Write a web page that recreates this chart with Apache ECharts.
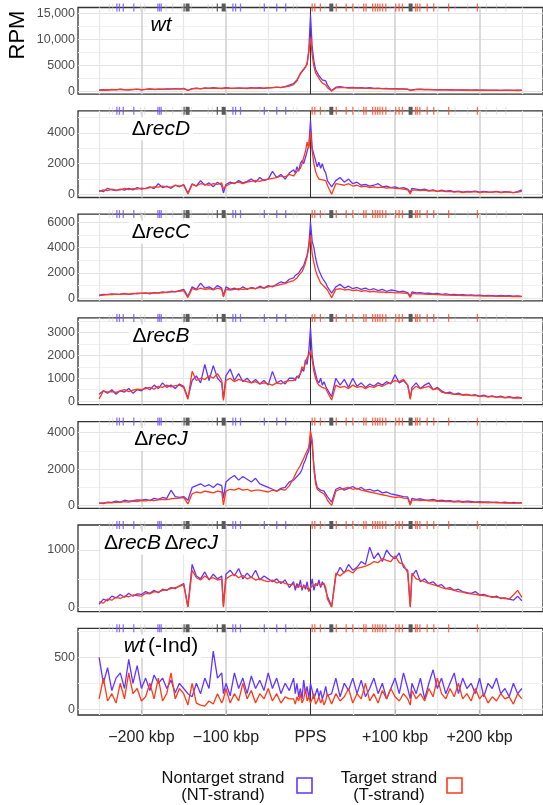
<!DOCTYPE html>
<html>
<head>
<meta charset="utf-8">
<script src="https://cdn.jsdelivr.net/npm/echarts@6/dist/echarts.min.js"></script>
<style>
html, body { margin: 0; padding: 0; background: #fff; }
#main { width: 543px; height: 805px; }
</style>
</head>
<body>
<div id="main"></div>
<script>
// bin positions, kbp relative to the PPS
var xs = [-250,-245,-240,-235,-230,-225,-220,-215,-210,-205,-200,-195,-190,-185,-180,-175,-170,-165,-160,-155,-150,-145,-140,-135,-130,-125,-120,-115,-110,-105,-103,-100,-95,-90,-85,-80,-75,-70,-65,-60,-55,-50,-45,-40,-35,-30,-25,
  -20,-18,-16,-14,-12,-10,-8,-6,-4,-2,0,2,4,6,8,10,12,14,16,18,20,
  25,30,35,40,45,50,55,60,65,70,75,80,85,90,95,100,105,110,115,118,120,125,130,135,140,145,150,155,160,165,170,175,180,185,190,195,200,205,210,215,220,225,230,235,240,245,250]

// RPM, nontarget (NT) and target (T) strand, one pair per strain
var wtNT = [250,300,220,350,280,400,310,260,330,420,300,380,450,350,420,380,460,400,500,430,560,200,520,600,480,650,560,700,620,580,250,690,620,560,650,600,540,700,620,680,560,650,720,800,700,900,1200,
  1500,1800,2200,2800,3300,3800,4200,4600,5500,8000,14700,8500,5800,4200,3600,3000,2600,2200,2500,2000,1200,
  100,800,900,750,700,760,650,700,620,680,560,600,520,560,480,520,450,480,400,200,420,380,400,350,380,330,300,320,280,300,260,280,250,270,230,250,220,240,200,230,210,190,220,200,180,210,200]
var wtT = [200,260,250,300,320,350,280,300,360,380,340,360,400,380,390,420,430,450,460,480,500,150,480,540,520,560,600,580,600,540,200,620,580,600,580,560,600,620,640,600,620,680,700,750,760,850,1000,
  1300,1600,2000,2700,3500,3200,4300,4000,5200,7500,10500,7000,4800,3600,3000,2500,2000,1600,1500,1200,700,
  50,650,720,700,620,640,600,620,560,580,540,520,500,480,470,460,440,420,380,150,400,360,350,340,320,300,290,280,260,250,240,230,220,230,210,200,190,200,180,190,170,180,170,160,170,150,160]

var recDNT = [250,180,400,300,250,350,280,400,300,450,350,400,500,380,700,450,550,400,600,500,650,100,700,550,900,600,750,500,800,600,100,650,800,700,900,750,850,1000,800,1100,900,1000,1500,1100,1300,1000,1400,
  1600,1400,1800,1500,2000,2200,2000,2400,2500,3200,4800,3000,2600,2200,1800,2100,1700,2000,1600,1400,900,
  500,900,1100,800,1000,700,800,600,650,550,600,700,500,550,450,500,400,450,350,150,400,350,300,350,250,300,200,280,220,250,180,220,150,200,180,220,150,200,170,150,200,130,180,150,120,180,300]
var recDT = [200,300,250,350,280,300,400,320,380,350,420,380,450,500,480,550,500,480,600,550,600,30,650,550,700,650,600,700,650,750,350,550,700,750,800,700,800,850,900,850,950,1000,1050,1100,1200,1150,1300,
  1200,1300,1500,1400,1700,2000,2400,2800,3400,3000,4100,2800,2000,1500,1200,1000,900,950,850,900,600,
  20,700,650,600,700,550,600,500,550,450,500,450,480,420,450,400,380,350,300,40,300,280,250,280,220,250,200,230,180,200,150,180,130,170,150,180,120,170,140,160,180,130,150,170,120,150,200]

var recCNT = [250,300,280,350,300,320,380,300,350,400,380,420,350,450,400,500,450,550,500,600,700,150,900,700,1200,800,900,700,1000,800,200,900,700,800,650,900,700,850,750,950,800,1000,900,1100,1300,1200,1500,
  1600,1800,1700,2000,2200,2400,2600,3000,3400,4200,6000,4500,4000,3200,2600,2200,1900,1600,1400,1200,900,
  400,900,1100,800,950,750,850,700,800,650,750,600,700,550,650,600,500,550,450,150,500,420,450,380,400,350,380,300,350,280,300,260,280,240,260,220,250,200,230,210,190,220,180,200,170,190,150]
var recCT = [200,250,300,280,320,300,350,330,380,350,400,380,420,400,450,430,480,500,520,550,600,50,750,650,800,700,750,650,800,700,100,700,650,700,750,700,750,800,750,850,800,900,950,1000,1100,1150,1300,
  1400,1500,1600,1800,1900,2100,2400,2800,3300,4000,5000,3500,2800,2200,1800,1500,1200,1100,950,850,650,
  50,700,750,650,700,600,650,550,600,500,550,480,500,450,480,430,420,400,380,60,380,350,340,320,300,300,280,260,250,240,230,220,210,200,200,190,180,170,180,160,150,160,140,150,130,140,120]

var recBNT = [300,450,350,500,300,450,400,550,350,500,450,600,500,700,550,800,600,700,550,750,650,150,900,1100,800,1600,900,1550,1000,800,100,1100,1400,900,1200,850,1000,800,950,750,900,700,1300,800,900,750,1000,
  1000,900,1100,1000,1200,1400,1300,1800,1600,2200,3200,2000,1500,1200,900,800,1000,700,850,650,500,
  200,1000,700,950,600,1000,650,800,600,750,650,800,700,850,750,1150,800,900,700,150,600,800,550,700,800,500,600,450,350,400,300,350,280,300,250,280,220,260,200,230,180,220,160,200,150,180,140]
var recBT = [100,450,400,420,380,450,500,420,480,520,500,550,600,520,650,600,700,620,680,700,600,80,1300,900,1000,950,1100,1000,1200,900,30,900,1000,850,950,900,850,800,850,750,800,750,700,800,750,850,900,
  900,1000,950,1100,1200,1500,1400,1700,1900,2000,2200,1800,1300,1000,800,700,750,600,650,550,400,
  50,700,600,650,550,700,600,650,550,650,600,700,650,750,800,900,850,950,700,80,500,650,550,600,650,500,550,400,350,330,300,300,260,280,240,250,200,230,180,210,170,190,150,170,130,150,120]

var recJNT = [150,120,200,180,250,200,300,250,280,320,300,350,280,400,350,450,400,850,500,450,500,300,1000,1100,1200,1050,1150,1000,1200,1100,400,1300,1500,1650,1400,1600,1450,1300,1500,1200,1100,1000,900,800,950,1000,1300,
  1400,1500,1600,1600,1800,2000,2300,2500,2800,3000,3800,3300,2200,1400,1000,900,850,950,800,700,500,
  200,900,1000,850,950,1050,900,1000,850,900,800,850,700,750,650,600,550,500,480,100,400,350,380,320,300,350,280,300,260,280,240,260,220,250,230,200,220,190,210,180,200,170,190,160,180,150,170]
var recJT = [130,150,170,150,200,180,220,200,250,230,280,260,300,280,320,350,330,380,400,420,450,100,650,750,700,800,750,700,800,750,50,800,900,850,950,850,900,800,850,850,800,750,850,800,900,850,1100,
  1500,1700,1900,2000,2200,2400,2600,2800,2900,3200,4100,3600,2000,1200,900,800,750,700,650,500,300,
  20,800,900,950,1000,900,950,850,800,750,700,650,600,550,500,450,480,420,400,30,300,320,280,300,260,280,240,250,220,240,200,220,190,210,180,200,170,190,160,180,150,170,140,160,130,150,140]

var recBJNT = [60,150,120,200,170,230,180,250,200,240,230,280,250,300,260,320,300,350,330,380,420,20,750,550,500,620,480,580,500,550,30,580,650,550,680,500,600,520,650,480,550,500,450,500,420,480,350,
  450,300,420,350,480,300,400,320,450,280,350,500,300,420,380,480,350,450,400,300,200,
  20,550,700,600,750,650,700,800,750,1050,850,950,800,1000,900,850,950,700,650,20,550,650,450,500,420,450,380,400,330,350,300,320,280,260,250,280,220,230,200,180,200,160,170,150,130,200,120]
var recBJT = [100,80,150,130,180,160,200,190,220,210,200,250,240,280,270,300,310,330,350,370,400,10,650,520,480,550,500,520,480,500,10,500,550,580,520,560,500,530,480,500,470,450,480,430,450,420,400,
  400,380,350,400,380,350,320,380,340,300,330,380,350,400,380,420,380,400,420,350,150,
  10,600,550,620,650,600,680,700,720,750,800,780,850,820,800,900,780,750,600,10,600,500,480,450,420,400,380,350,330,320,300,280,270,250,240,230,220,210,200,190,180,170,160,150,220,300,180]

var indNT = [500,250,400,180,300,350,200,480,250,420,200,300,180,330,250,300,200,280,160,250,200,150,120,250,150,300,200,560,300,350,150,250,130,350,200,300,150,320,200,280,180,350,200,300,150,250,180,
  300,150,250,120,200,100,280,150,220,100,250,180,100,150,200,120,180,100,150,220,130,
  150,300,120,250,180,300,150,280,120,200,300,150,250,100,200,300,150,350,200,100,250,150,300,100,250,380,200,300,150,250,350,150,300,200,250,150,300,120,250,200,300,150,200,120,250,150,200]
var indT = [100,300,80,150,60,250,100,350,150,200,80,120,250,100,300,80,150,350,100,200,150,40,250,60,40,30,80,50,150,60,100,200,60,150,80,250,100,180,60,150,100,200,80,150,60,120,100,
  100,50,120,80,150,60,100,200,80,120,60,100,150,50,80,120,60,100,40,80,150,
  50,150,80,120,200,60,150,100,250,80,150,60,180,100,200,120,80,150,100,40,180,100,150,80,200,120,300,150,100,200,120,250,100,150,80,200,100,150,60,120,80,150,100,120,50,150,100]

// feature rug along the top of every panel (kbp)
var rugNT = [-229,-226,-221.5,-209,-180.5,-178.5,-176.6,-91.8,-88.6,-82.8,-54.6,-39.9,-29.3]
var rugT = [2,5.1,11.7,30.5,42.2,50.1,63,65.7,73.5,76.6,79.4,82.1,85.2,89.1,100.8,104.8,108.7,124.3,126.3,129.4,138,145.8,163.4,197.4]
var rugBlock = [-145.4,-102.7,24.6,118.4]
var rugDark = [-149.5,-110.2]
var rugLight = [-238,-234,-201,-196,-171,-163,-152,-141,-121,-116,-60,-20.3,-16,17,57,94,151,171,186,208,220,231]

var panelNames = ['{i|wt}', '{u|Δ}{i|recD}', '{u|Δ}{i|recC}', '{u|Δ}{i|recB}', '{u|Δ}{i|recJ}',
  '{u|Δ}{i|recB} {u|Δ}{i|recJ}', '{i|wt} {u|(-Ind)}']
var seriesNT = [wtNT, recDNT, recCNT, recBNT, recJNT, recBJNT, indNT]
var seriesT = [wtT, recDT, recCT, recBT, recJT, recBJT, indT]

var xTicks = [-200, -100, 0, 100, 200]
var xTickLabels = ['\u2212200 kbp', '\u2212100 kbp', 'PPS', '+100 kbp', '+200 kbp']
var xMinor = [-250, -150, -50, 50, 150, 250]
var yTicks = [[0, 5000, 10000, 15000], [0, 2000, 4000], [0, 2000, 4000, 6000], [0, 1000, 2000, 3000],
  [0, 2000, 4000], [0, 1000], [0, 500]]
var yMinor = [[2500, 7500, 12500], [1000, 3000, 5000], [1000, 3000, 5000], [500, 1500, 2500, 3500],
  [1000, 3000], [500], [250, 750]]

// layout
var panelTops = [7.5, 110.8, 214.1, 317.9, 421.6, 525, 628.3]
var panelHeight = 86.7
var yMins = [-560, -195, -204, -149, -142, -69, -55]
var yMaxs = [16150, 5429, 6652, 3630, 4603, 1433, 779]

var ntColor = '#6236ff'
var tColor = '#ff3a17'
var font = '"Liberation Sans", Arial, sans-serif'

function withComma(v) {
  return v >= 10000 ? String(v).replace(/\B(?=(\d{3})+(?!\d))/g, ',') : String(v)
}

var grids = [], xAxes = [], yAxes = [], series = [], graphics = []

panelTops.forEach(function (top, i) {
  var last = i === panelTops.length - 1
  grids.push({ left: 78, width: 469, top: top, height: panelHeight, show: true, borderColor: '#333', borderWidth: 1.3 })
  xAxes.push({
    gridIndex: i, type: 'value', min: -275, max: 275, show: last,
    axisLine: { show: false }, splitLine: { show: false },
    axisTick: { show: last, customValues: xTicks, length: 4, lineStyle: { color: '#333', width: 1.1 } },
    axisLabel: {
      show: last, customValues: xTicks, margin: 15, fontSize: 16, fontFamily: font, color: '#222',
      formatter: function (v) { return xTickLabels[xTicks.indexOf(v)] }
    }
  })
  yAxes.push({
    gridIndex: i, type: 'value', min: yMins[i], max: yMaxs[i],
    axisLine: { show: false }, splitLine: { show: false },
    axisTick: { show: true, customValues: yTicks[i], length: 4, lineStyle: { color: '#333', width: 1.1 } },
    axisLabel: { customValues: yTicks[i], margin: 3, fontSize: 12.5, fontFamily: font, color: '#4d4d4d', formatter: withComma }
  })

  // grid lines as marker lines under the data
  var lines = []
  yMinor[i].forEach(function (v) { lines.push({ yAxis: v, lineStyle: { color: '#f0f0f0', width: 1 } }) })
  yTicks[i].forEach(function (v) { lines.push({ yAxis: v, lineStyle: { color: '#e4e4e4', width: 1.1 } }) })
  xMinor.forEach(function (v) { lines.push({ xAxis: v, lineStyle: { color: '#e8e8e8', width: 1.3 } }) })
  xTicks.forEach(function (v) {
    if (v !== 0) lines.push({ xAxis: v, lineStyle: { color: '#d2d2d2', width: 1.6 } })
  })
  lines.push({ xAxis: 0, lineStyle: { color: '#333', width: 1 } })

  series.push({
    name: 'Nontarget strand', type: 'line', xAxisIndex: i, yAxisIndex: i,
    data: xs.map(function (x, k) { return [x, seriesNT[i][k]] }),
    showSymbol: false, symbol: 'none', silent: true, animation: false,
    lineStyle: { color: ntColor, width: 1.3 }, itemStyle: { color: ntColor },
    markLine: {
      silent: true, symbol: ['none', 'none'], animation: false, z: 1,
      label: { show: false }, lineStyle: { type: 'solid' }, data: lines
    }
  })
  series.push({
    name: 'Target strand', type: 'line', xAxisIndex: i, yAxisIndex: i,
    data: xs.map(function (x, k) { return [x, seriesT[i][k]] }),
    showSymbol: false, symbol: 'none', silent: true, animation: false,
    lineStyle: { color: tColor, width: 1.3 }, itemStyle: { color: tColor }
  })

  var rugs = [
    [rugLight, '#c8c8c8', 0.45, 1.2],
    [rugNT, '#7350ff', 0.8, 1.3],
    [rugT, '#ff4a2a', 0.8, 1.3],
    [rugDark, '#555555', 0.9, 1.3],
    [rugBlock, '#5a5a5a', 1, 4]
  ]
  rugs.forEach(function (r) {
    series.push({
      type: 'scatter', xAxisIndex: i, yAxisIndex: i, silent: true, animation: false, clip: false, z: 4,
      symbol: 'rect', symbolSize: [r[3], 8],
      itemStyle: { color: r[1], opacity: r[2] },
      data: r[0].map(function (x) { return [x, yMaxs[i]] })
    })
  })

  graphics.push({
    type: 'text', x: 161, y: top + 18, silent: true, z: 10,
    style: {
      text: panelNames[i], align: 'center', verticalAlign: 'middle',
      backgroundColor: '#fff', padding: [1, 3, 1, 3],
      rich: {
        i: { fontSize: 21, fontFamily: font, fontStyle: 'italic', fill: '#000' },
        u: { fontSize: 21, fontFamily: font, fill: '#000' }
      }
    }
  })
})

graphics.push({
  type: 'text', x: 18, y: 35, rotation: Math.PI / 2, silent: true,
  style: { text: 'RPM', fontSize: 22, fontFamily: font, fill: '#000', align: 'center', verticalAlign: 'middle' }
})

// legend
var legendItems = [
  { text: 'Nontarget strand\n(NT-strand)', cx: 223, box: 297, color: ntColor },
  { text: 'Target strand\n(T-strand)', cx: 389, box: 447, color: tColor }
]
legendItems.forEach(function (it) {
  graphics.push({
    type: 'text', x: it.cx, y: 787, silent: true,
    style: { text: it.text, fontSize: 16.5, lineHeight: 17, fontFamily: font, fill: '#111', align: 'center', verticalAlign: 'middle' }
  })
  graphics.push({
    type: 'rect', silent: true, shape: { x: it.box, y: 778, width: 15, height: 15 },
    style: { fill: 'none', stroke: it.color, lineWidth: 1.6 }
  })
})

var myChart = echarts.init(document.getElementById('main'), null, { renderer: 'canvas' })
myChart.setOption({
  animation: false,
  backgroundColor: '#fff',
  grid: grids,
  xAxis: xAxes,
  yAxis: yAxes,
  series: series,
  graphic: { elements: graphics }
})
</script>
</body>
</html>
